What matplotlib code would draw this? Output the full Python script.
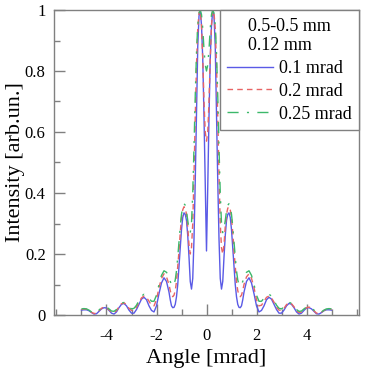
import numpy as np
import matplotlib
matplotlib.use("Agg")
import matplotlib.pyplot as plt
from matplotlib.ticker import MultipleLocator

plt.rcParams["font.family"] = ["Liberation Serif", "DejaVu Serif"]
plt.rcParams["axes.unicode_minus"] = False

# angle values for the positive half (pattern is symmetric about 0)
angle_half = [0.0, 0.05, 0.1, 0.15, 0.2, 0.25, 0.3, 0.35, 0.4, 0.45,
              0.5, 0.55, 0.6, 0.65, 0.7, 0.75, 0.8, 0.85, 0.9, 0.95,
              1.0, 1.05, 1.1, 1.15, 1.2, 1.25, 1.3, 1.35, 1.4, 1.45,
              1.5, 1.6, 1.7, 1.8, 1.9, 2.0, 2.1, 2.2, 2.3, 2.4,
              2.5, 2.6, 2.7, 2.8, 2.9, 3.0, 3.1, 3.2, 3.3, 3.4,
              3.5, 3.6, 3.7, 3.8, 3.9, 4.0, 4.1, 4.2, 4.3, 4.4,
              4.5, 4.6, 4.7, 4.8, 4.9, 5.0]

# 0.1 mrad
int_01 = [0.21, 0.42, 0.65, 0.84, 0.95, 1.0, 0.98, 0.88, 0.66, 0.44,
          0.25, 0.12, 0.085, 0.11, 0.19, 0.26, 0.31, 0.33, 0.335, 0.32,
          0.28, 0.22, 0.16, 0.10, 0.06, 0.035, 0.025, 0.024, 0.03, 0.05,
          0.075, 0.11, 0.122, 0.105, 0.07, 0.03, 0.01, 0.015, 0.03, 0.05,
          0.058, 0.052, 0.035, 0.018, 0.006, 0.006, 0.016, 0.03, 0.038, 0.035,
          0.024, 0.01, 0.003, 0.006, 0.015, 0.023, 0.024, 0.02, 0.012, 0.004,
          0.003, 0.008, 0.014, 0.017, 0.017, 0.016]

# 0.2 mrad
int_02 = [0.57, 0.6, 0.7, 0.84, 0.95, 1.0, 0.99, 0.94, 0.82, 0.65,
          0.46, 0.3, 0.22, 0.2, 0.23, 0.29, 0.33, 0.35, 0.355, 0.345,
          0.32, 0.27, 0.21, 0.16, 0.11, 0.08, 0.065, 0.06, 0.065, 0.08,
          0.1, 0.125, 0.135, 0.12, 0.09, 0.05, 0.03, 0.032, 0.045, 0.058,
          0.062, 0.056, 0.042, 0.026, 0.016, 0.015, 0.022, 0.034, 0.04, 0.037,
          0.027, 0.014, 0.008, 0.01, 0.017, 0.024, 0.026, 0.022, 0.014, 0.006,
          0.005, 0.009, 0.015, 0.019, 0.02, 0.018]

# 0.25 mrad
int_025 = [0.8, 0.82, 0.87, 0.94, 0.985, 1.0, 0.99, 0.95, 0.86, 0.72,
           0.55, 0.4, 0.3, 0.27, 0.28, 0.31, 0.34, 0.36, 0.365, 0.355,
           0.33, 0.29, 0.24, 0.19, 0.145, 0.115, 0.1, 0.095, 0.1, 0.11,
           0.125, 0.14, 0.145, 0.13, 0.1, 0.065, 0.045, 0.045, 0.055, 0.065,
           0.068, 0.062, 0.048, 0.032, 0.022, 0.02, 0.026, 0.036, 0.041, 0.039,
           0.03, 0.018, 0.012, 0.013, 0.02, 0.026, 0.027, 0.024, 0.016, 0.008,
           0.006, 0.01, 0.016, 0.02, 0.021, 0.02]

labels = ["0.1 mrad", "0.2 mrad", "0.25 mrad"]
xticks = [-4, -2, 0, 2, 4]
yticks = [0, 0.2, 0.4, 0.6, 0.8, 1]
ytick_labels = ["0", "0.2", "0.4", "0.6", "0.8", "1"]


def full(half):
    h = np.array(half)
    return np.concatenate([h[::-1], h[1:]])


a = np.array(angle_half)
angle = np.concatenate([-a[::-1], a[1:]])

fig = plt.figure(figsize=(3.68, 3.69), dpi=100)
ax = fig.add_axes([54 / 368, 54 / 369, 305 / 368, 305 / 369])

ax.plot(angle, full(int_01), color="#5a5ae6", lw=1.0, label=labels[0])
ax.plot(angle, full(int_02), color="#e86464", lw=1.0, ls=(0, (4, 3)), label=labels[1])
ax.plot(angle, full(int_025), color="#3cb86a", lw=1.0, ls=(0, (8, 6, 1.5, 6)), label=labels[2])

ax.set_xlim(-6.1, 6.1)
ax.set_ylim(0, 1)
ax.set_xticks(xticks)
ax.set_xticklabels([str(t) for t in xticks])
ax.set_yticks(yticks)
ax.set_yticklabels(ytick_labels)
ax.xaxis.set_minor_locator(MultipleLocator(1))
ax.yaxis.set_minor_locator(MultipleLocator(0.1))
ax.tick_params(which="both", direction="in", colors="#808080", labelcolor="black",
               labelsize=12, top=False, right=False)
ax.tick_params(which="major", length=8, width=1)
ax.tick_params(which="minor", length=4, width=1)
ax.tick_params(axis="x", which="major", pad=9)
ax.tick_params(axis="y", which="major", pad=6)
for s in ax.spines.values():
    s.set_color("#808080")
    s.set_linewidth(1)

ax.set_xlabel("Angle [mrad]", fontsize=16, labelpad=4)
ax.set_ylabel("Intensity [arb.un.]", fontsize=16, labelpad=0)

leg = ax.legend(loc="upper right", title="0.5-0.5 mm\n0.12 mm", fontsize=13,
                title_fontsize=13, fancybox=False, framealpha=1, edgecolor="#808080",
                borderaxespad=0, handlelength=2.55, handletextpad=0.3,
                labelspacing=0.32, borderpad=0.42)
leg.get_frame().set_linewidth(1)

fig.savefig("out.png", dpi=100)
